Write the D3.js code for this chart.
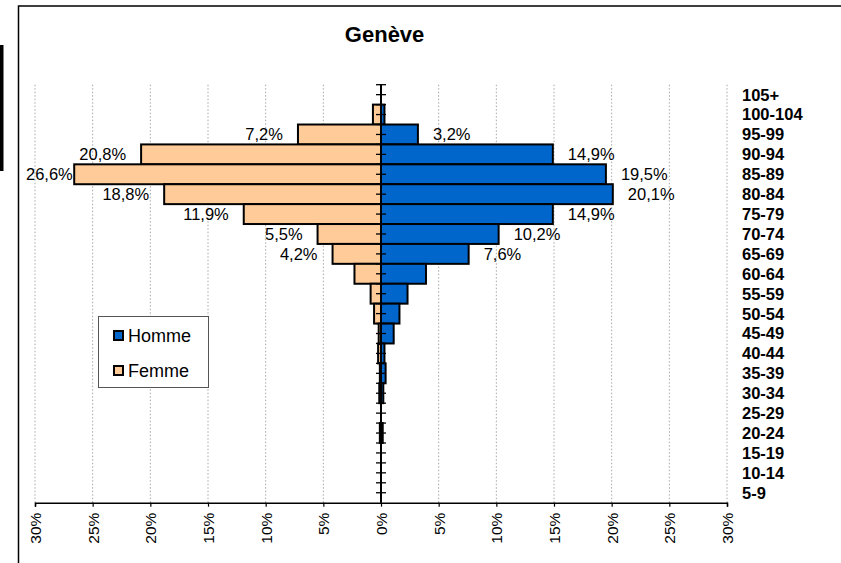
<!DOCTYPE html>
<html><head><meta charset="utf-8">
<script src="https://cdn.jsdelivr.net/npm/d3@7"></script>
<style>body{margin:0;background:#fff}svg{display:block}text{font-family:"Liberation Sans",Arial,sans-serif}</style>
</head><body>
<svg id="c" width="841" height="563"></svg>
<script>
const title = "Genève";
const ages = ["105+","100-104","95-99","90-94","85-89","80-84","75-79","70-74","65-69","60-64","55-59","50-54","45-49","40-44","35-39","30-34","25-29","20-24","15-19","10-14","5-9"];
const homme = [0, 0.3, 3.2, 14.9, 19.5, 20.1, 14.9, 10.2, 7.6, 3.9, 2.3, 1.6, 1.1, 0.3, 0.4, 0.2, 0, 0.15, 0, 0, 0];
const femme = [0, 0.7, 7.2, 20.8, 26.6, 18.8, 11.9, 5.5, 4.2, 2.3, 0.9, 0.6, 0.2, 0.25, 0.1, 0.15, 0, 0.1, 0, 0, 0];
const labelledAges = ["95-99","90-94","85-89","80-84","75-79","70-74","65-69"];
const xTicks = [-30,-25,-20,-15,-10,-5,0,5,10,15,20,25,30];
const seriesNames = ["Homme","Femme"];
const colors = {Homme:"#0066CC", Femme:"#FFCC99"};

const svg = d3.select("#c");
const x = d3.scaleLinear().domain([-30,30]).range([35,727]);
const y = d3.scaleBand().domain(ages).range([84.7,502.7]).padding(0);
const fmt = v => d3.format(".1f")(v).replace(".", ",") + "%";

// chart frame
svg.append("rect").attr("x",18.5).attr("y",6).attr("width",900).attr("height",700)
  .attr("fill","none").attr("stroke","#000").attr("stroke-width",1.5);
svg.append("rect").attr("x",0).attr("y",45).attr("width",3.5).attr("height",126).attr("fill","#000");

// title
svg.append("text").attr("x",384.6).attr("y",42).attr("text-anchor","middle")
  .attr("font-size",22).attr("font-weight","bold").text(title);

// gridlines
svg.append("g").selectAll("line").data(xTicks.filter(d=>d!==0)).join("line")
  .attr("x1",d=>x(d)).attr("x2",d=>x(d)).attr("y1",y.range()[0]).attr("y2",y.range()[1])
  .attr("stroke","#a8a8a8").attr("stroke-width",1).attr("stroke-dasharray","1.5,2");

// bars
const rows = ages.map((a,i)=>({age:a,h:homme[i],f:femme[i]}));
const bw = y.bandwidth();
svg.append("g").selectAll("rect").data(rows.filter(r=>r.f>0)).join("rect")
  .attr("x",d=>x(-d.f)).attr("width",d=>x(0)-x(-d.f)).attr("y",d=>y(d.age)).attr("height",bw)
  .attr("fill",colors.Femme).attr("stroke","#000").attr("stroke-width",2);
svg.append("g").selectAll("rect").data(rows.filter(r=>r.h>0)).join("rect")
  .attr("x",x(0)).attr("width",d=>x(d.h)-x(0)).attr("y",d=>y(d.age)).attr("height",bw)
  .attr("fill",colors.Homme).attr("stroke","#000").attr("stroke-width",2);

// x axis
const xAxis = d3.axisBottom(x).tickValues(xTicks).tickSize(4).tickFormat(d=>Math.abs(d)+"%");
const gx = svg.append("g").attr("transform",`translate(0,${y.range()[1]})`).call(xAxis);
gx.select(".domain").attr("stroke","#000").attr("stroke-width",1.5);
gx.selectAll(".tick line").attr("stroke","#000").attr("stroke-width",1.2);
gx.selectAll(".tick text").attr("font-size",15.5).attr("font-family","Liberation Sans, Arial, sans-serif")
  .attr("fill","#000").attr("transform","rotate(-90)").attr("text-anchor","end")
  .attr("x",-10).attr("y",0).attr("dy","0.35em");

// vertical axis at 0 with ticks at band edges and centers
const tickYs = [];
ages.forEach(a=>{ tickYs.push(y(a)); tickYs.push(y(a)+bw/2); });
const gy = svg.append("g");
gy.append("line").attr("x1",x(0)).attr("x2",x(0)).attr("y1",y.range()[0]).attr("y2",y.range()[1])
  .attr("stroke","#000").attr("stroke-width",2);
gy.selectAll("line.t").data(tickYs).join("line").attr("class","t")
  .attr("x1",x(0)-5).attr("x2",x(0)+5).attr("y1",d=>d).attr("y2",d=>d)
  .attr("stroke","#000").attr("stroke-width",1.3);

// age labels
svg.append("g").selectAll("text").data(ages).join("text")
  .attr("x",742).attr("y",d=>y(d)+bw/2).attr("dy","0.36em")
  .attr("font-size",16.5).attr("font-weight","bold").text(d=>d);

// data labels
const lab = rows.filter(r=>labelledAges.includes(r.age));
svg.append("g").selectAll("text").data(lab).join("text")
  .attr("x",d=>x(d.h)+15).attr("y",d=>y(d.age)+bw/2).attr("dy","0.36em")
  .attr("font-size",16.5).text(d=>fmt(d.h));
const fl = svg.append("g").selectAll("text").data(lab).join("text")
  .attr("y",d=>y(d.age)+bw/2).attr("dy","0.36em").attr("text-anchor","end")
  .attr("font-size",16.5).text(d=>fmt(d.f));
fl.each(function(d){
  const w = this.getComputedTextLength();
  d3.select(this).attr("x", Math.max(x(-d.f)-15, 26+w));
});

// legend
const lg = svg.append("g");
lg.append("rect").attr("x",98.5).attr("y",316.5).attr("width",110).attr("height",71)
  .attr("fill","#fff").attr("stroke","#555").attr("stroke-width",1);
seriesNames.forEach((s,i)=>{
  const yy = 336 + i*35;
  lg.append("rect").attr("x",114).attr("y",yy-5).attr("width",9).attr("height",9)
    .attr("fill",colors[s]).attr("stroke","#000").attr("stroke-width",2);
  lg.append("text").attr("x",128).attr("y",yy).attr("dy","0.36em").attr("font-size",18).text(s);
});
</script>
</body></html>
